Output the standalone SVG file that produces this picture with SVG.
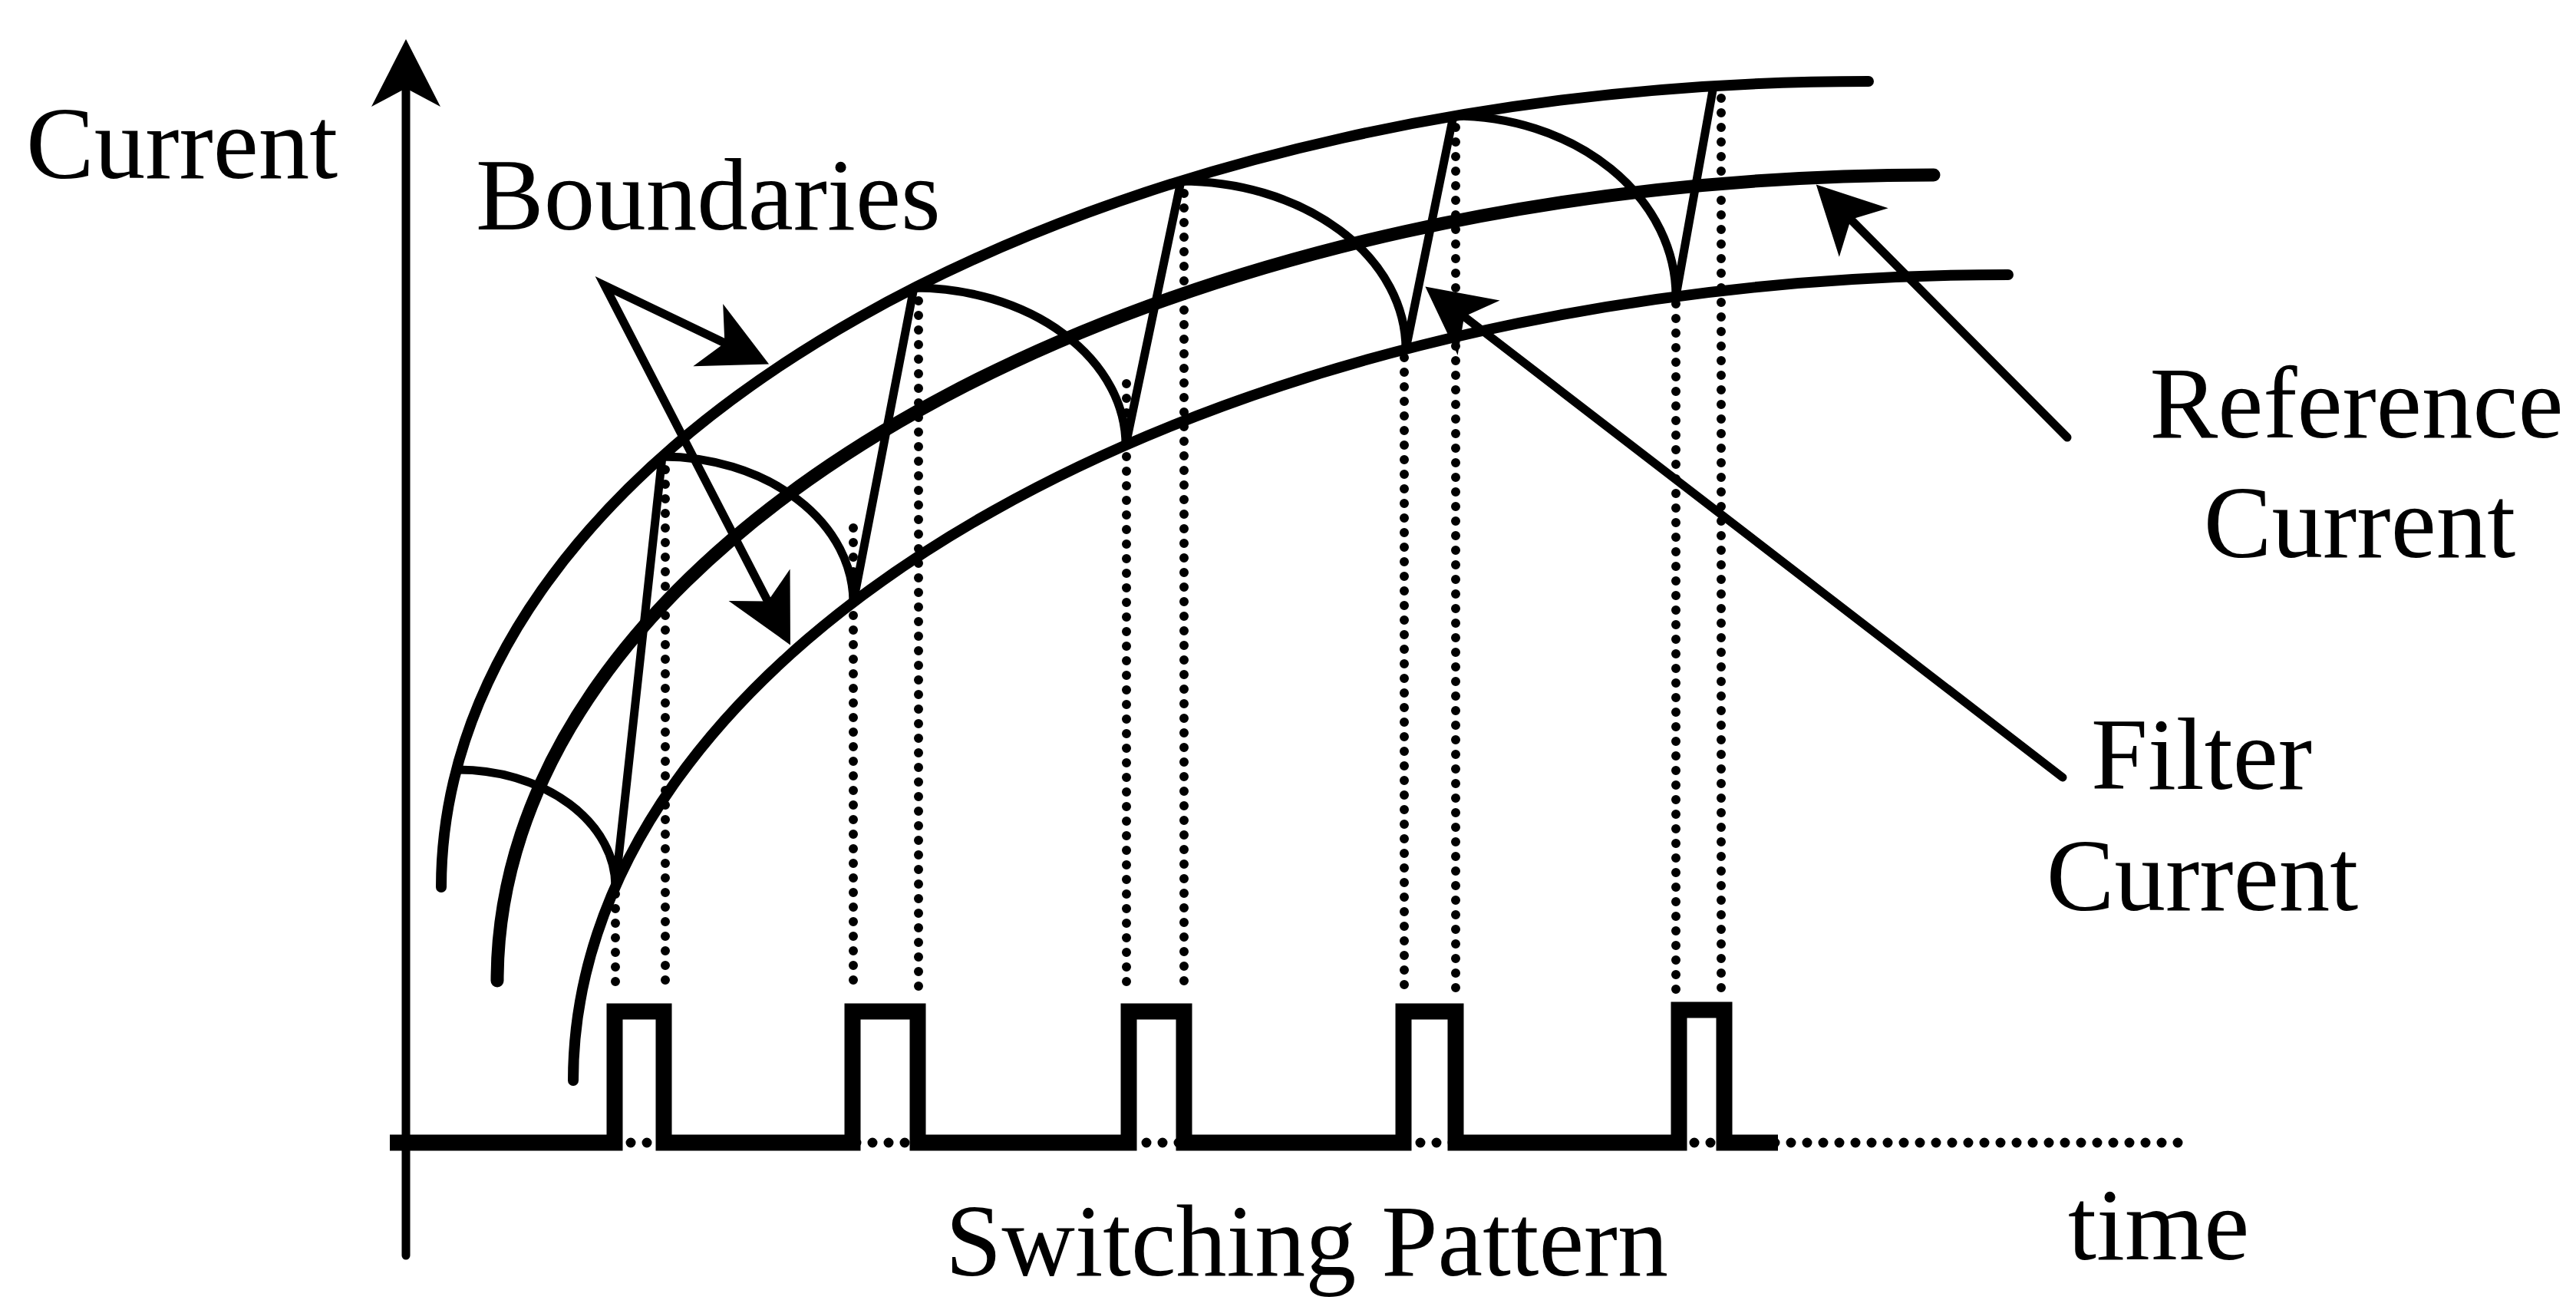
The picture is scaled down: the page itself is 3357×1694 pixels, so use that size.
<svg xmlns="http://www.w3.org/2000/svg" width="3357" height="1694" viewBox="0 0 3357 1694">
<style>
text{font-family:"Liberation Serif","Times New Roman",serif;font-size:133px;fill:#000}
.crv{fill:none;stroke:#000;stroke-linecap:round}
.fc{fill:none;stroke:#000;stroke-width:11;stroke-linejoin:round;stroke-linecap:round}
.dot{fill:none;stroke:#000;stroke-width:12;stroke-linecap:round;stroke-dasharray:0 19}
.bdot{fill:none;stroke:#000;stroke-width:13;stroke-linecap:round;stroke-dasharray:0 21}
.pulse{fill:none;stroke:#000;stroke-width:21;stroke-linejoin:miter}
.arr{fill:none;stroke:#000;stroke-width:11;stroke-linecap:round;stroke-linejoin:miter}
</style>
<defs>
<marker id="ah" markerUnits="userSpaceOnUse" markerWidth="120" markerHeight="120" viewBox="-100 -60 120 120" refX="-50" refY="0" orient="auto-start-reverse" overflow="visible">
<path d="M0,0 L-88,-45 L-64,0 L-88,45 Z" fill="#000"/>
</marker>
</defs>
<rect width="3357" height="1694" fill="#fff"/>

<g id="axes">
<line x1="529" y1="1636" x2="529" y2="101" class="arr" stroke-width="12" marker-end="url(#ah)"/>
</g>

<g id="switching-pattern">
<line x1="801" y1="1489" x2="2839" y2="1489" class="bdot"/>
<path class="pulse" d="M508,1489 H801 V1318 H865 V1489 H1111 V1318 H1196 V1489 H1471 V1318 H1543 V1489 H1829 V1318 H1897 V1489 H2188 V1316 H2247 V1489 H2317"/>
</g>

<g id="dotted-projections">
<line class="dot" x1="802" y1="1165" x2="802" y2="1296"/>
<line class="dot" x1="867" y1="612" x2="867" y2="1296"/>
<line class="dot" x1="1112" y1="688" x2="1112" y2="1296"/>
<line class="dot" x1="1197" y1="392" x2="1197" y2="1296"/>
<line class="dot" x1="1468" y1="500" x2="1468" y2="1296"/>
<line class="dot" x1="1543" y1="252" x2="1543" y2="1296"/>
<line class="dot" x1="1830" y1="466" x2="1830" y2="1296"/>
<line class="dot" x1="1897" y1="166" x2="1897" y2="1290"/>
<line class="dot" x1="2184" y1="396" x2="2184" y2="1296"/>
<line class="dot" x1="2243" y1="128" x2="2243" y2="1290"/>
</g>

<g id="upper-boundary">
<path class="crv" stroke-width="14" d="M575,1156 A1860 1050 0 0 1 2435,106"/>
</g>
<g id="reference-current">
<path class="crv" stroke-width="17" d="M648,1278 A1872 1050 0 0 1 2520,228"/>
</g>
<g id="lower-boundary">
<path class="crv" stroke-width="14" d="M747,1408 A1870 1050 0 0 1 2617,358"/>
</g>

<g id="filter-current">
<path class="fc" d="M597,1003 A205 152 0 0 1 802,1155 L863,595 A249 190 0 0 1 1112,785 L1191,375 A276 205 0 0 1 1467,580 L1539,236 A293 219 0 0 1 1832,455 L1894,151 A290 235 0 0 1 2184,386 L2233,112"/>
</g>

<g id="connectors">
<path class="arr" d="M957,453 L788,372 L1007,796" marker-start="url(#ah)" marker-end="url(#ah)"/>
<path class="arr" d="M2694,570 L2402,276" marker-end="url(#ah)"/>
<path class="arr" d="M2688,1013 L1897,404" marker-end="url(#ah)"/>
</g>

<g id="label-current-axis"><text x="34" y="232">Current</text></g>
<g id="label-boundaries"><text x="620" y="299">Boundaries</text></g>
<g id="label-reference"><text x="3071" y="570" text-anchor="middle">Reference</text><text x="3075" y="726" text-anchor="middle">Current</text></g>
<g id="label-filter"><text x="2869" y="1028" text-anchor="middle">Filter</text><text x="2870" y="1186" text-anchor="middle">Current</text></g>
<g id="label-switching"><text x="1232" y="1662" textLength="942" lengthAdjust="spacingAndGlyphs">Switching Pattern</text></g>
<g id="label-time"><text x="2695" y="1641">time</text></g>
</svg>
